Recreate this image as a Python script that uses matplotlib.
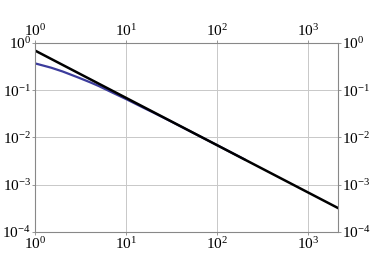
import matplotlib
matplotlib.use("Agg")
import matplotlib.pyplot as plt
import numpy as np

plt.rcParams['font.family'] = 'serif'
plt.rcParams['font.serif'] = ['Liberation Serif', 'DejaVu Serif']
plt.rcParams['mathtext.fontset'] = 'stix'

# black reference line (power law, two end points)
x_ref = [1, 2150]
y_ref = [0.69, 3.2e-4]

# blue curve
x_blue = [1, 1.5, 2, 3, 4, 5, 7, 10, 15, 20, 30, 50, 100, 200]
y_blue = [0.37, 0.30, 0.25, 0.185, 0.148, 0.123, 0.090, 0.065, 0.044, 0.0336,
          0.0227, 0.0137, 0.0069, 0.00345]

fig, ax = plt.subplots(figsize=(3.74, 2.56), dpi=100)
fig.subplots_adjust(left=0.094, right=0.904, top=0.832, bottom=0.094)

ax.loglog(x_blue, y_blue, color='#3c3c9c', lw=1.6)
ax.loglog(x_ref, y_ref, color='black', lw=1.8)

ax.set_xlim(1, 2150)
ax.set_ylim(1e-4, 1)
ax.grid(True, which='major', color='#c8c8c8', lw=0.7)
ax.minorticks_off()
ax.tick_params(which='major', labelsize=11, length=2, width=0.6, color='#888888',
               top=True, right=True, labeltop=True, labelright=True, pad=1)
for s in ax.spines.values():
    s.set_color('#888888')
    s.set_linewidth(0.8)

plt.savefig("out.png", dpi=100)
